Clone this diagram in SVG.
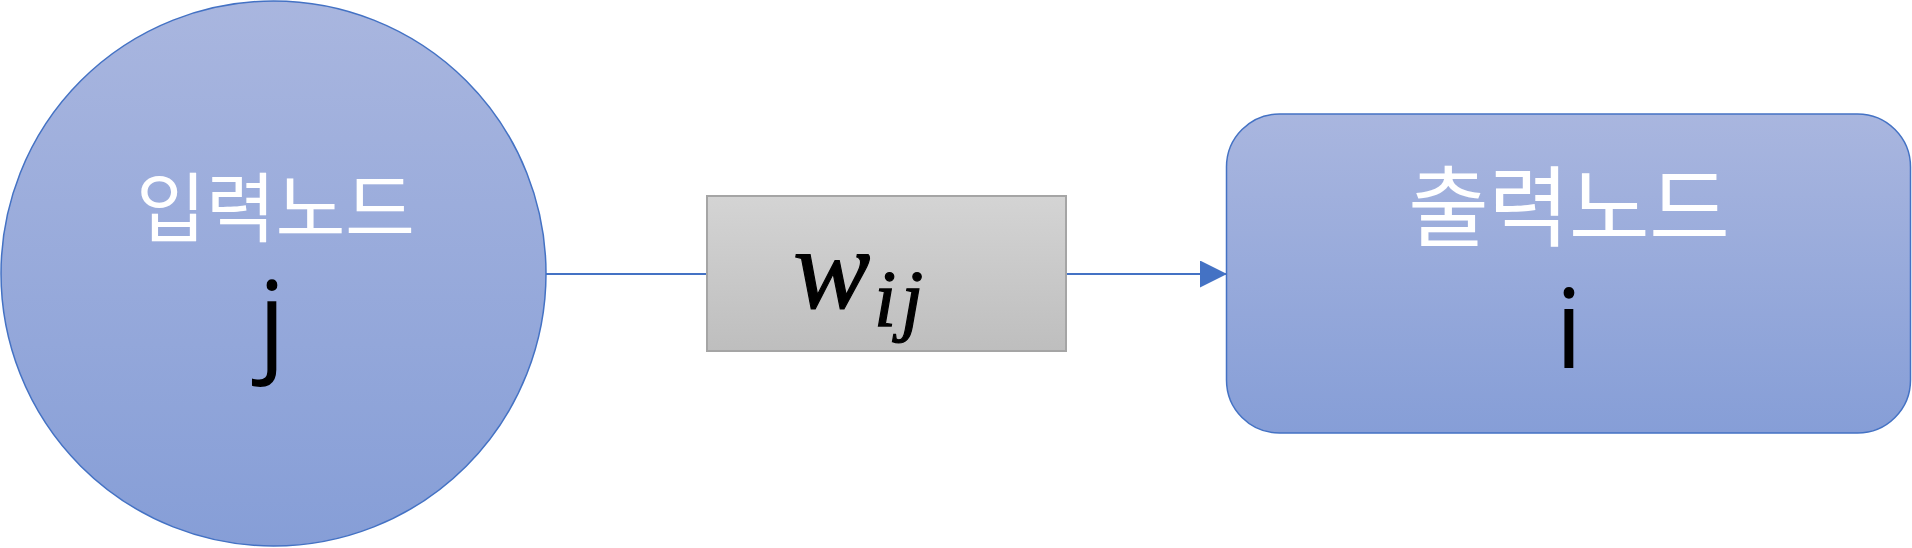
<svg xmlns="http://www.w3.org/2000/svg" width="1912" height="548" viewBox="0 0 1912 548">
<style>
.node{stroke:#4472C4;stroke-width:1.5}
.kr{font-family:"Noto Sans CJK KR","Noto Sans",sans-serif;fill:#FFFFFF}
.lat{font-family:"Open Sans","Noto Sans",sans-serif;fill:#000000;text-anchor:middle}
.math{font-family:"Liberation Serif","DejaVu Serif",serif;font-style:italic;fill:#000000;stroke:#000000;stroke-width:1.2}
.conn{stroke:#4472C4;stroke-width:2;fill:none}
</style>
<defs>
<linearGradient id="blue" x1="0" y1="0" x2="0" y2="1">
<stop offset="0" stop-color="#A9B6DF"/>
<stop offset="1" stop-color="#869ED7"/>
</linearGradient>
<linearGradient id="grey" x1="0" y1="0" x2="0" y2="1">
<stop offset="0" stop-color="#D4D4D4"/>
<stop offset="1" stop-color="#BEBEBE"/>
</linearGradient>
<marker id="arrow" markerWidth="27" markerHeight="27" refX="27" refY="13.5" markerUnits="userSpaceOnUse" orient="auto">
<path d="M0,0 L27,13.5 L0,27 Z" fill="#4472C4"/>
</marker>
</defs>
<g id="connectors">
<line class="conn" x1="546" y1="274" x2="707" y2="274"/>
<line class="conn" x1="1066" y1="274" x2="1227" y2="274" marker-end="url(#arrow)"/>
</g>
<g id="input-node">
<circle class="node" cx="273.5" cy="273.5" r="272.5" fill="url(#blue)"/>
<text class="kr" x="136" y="236" font-size="76" textLength="279" lengthAdjust="spacing">입력노드</text>
<text class="lat" x="272" y="361" font-size="110">j</text>
</g>
<g id="weight-node">
<rect x="707" y="196" width="359" height="155" fill="url(#grey)" stroke="#A5A5A5" stroke-width="2"/>
<text class="math" x="793" y="308" font-size="116">w</text>
<text class="math" x="874" y="326" font-size="80">i</text>
<text class="math" x="901" y="326" font-size="80">j</text>
</g>
<g id="output-node">
<rect class="node" x="1226.5" y="114" width="684" height="319" rx="53" ry="53" fill="url(#blue)"/>
<text class="kr" x="1408" y="239" font-size="88" textLength="322" lengthAdjust="spacing">출력노드</text>
<text class="lat" x="1569" y="368" font-size="110">i</text>
</g>
</svg>
